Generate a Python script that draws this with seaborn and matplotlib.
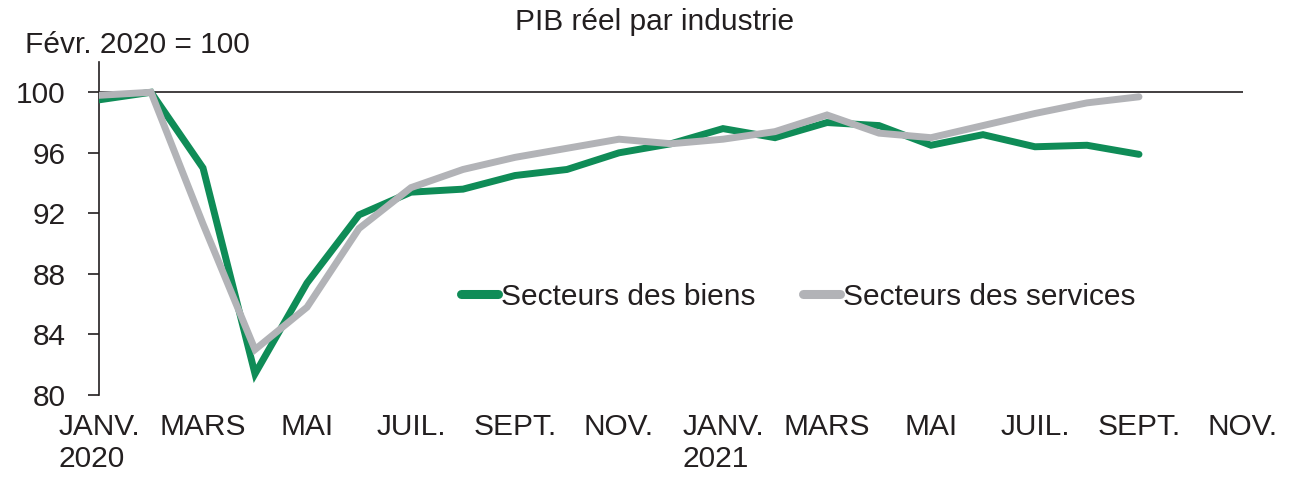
import numpy as np
import pandas as pd
import matplotlib
matplotlib.use("Agg")
import matplotlib.pyplot as plt
import seaborn as sns

# monthly index, janv. 2020 = 0 ... sept. 2021 = 20
months = list(range(21))
goods = [99.5, 100.0, 95.0, 81.4, 87.4, 91.9, 93.4, 93.6, 94.5, 94.9, 96.0, 96.6,
         97.6, 97.0, 98.0, 97.8, 96.5, 97.2, 96.4, 96.5, 95.9]
services = [99.8, 100.0, 91.3, 83.0, 85.8, 91.0, 93.7, 94.9, 95.7, 96.3, 96.9, 96.6,
            96.9, 97.4, 98.5, 97.3, 97.0, 97.8, 98.6, 99.3, 99.7]
tick_pos = list(range(0, 23, 2))
tick_labels = ["JANV.\n2020", "MARS", "MAI", "JUIL.", "SEPT.", "NOV.",
               "JANV.\n2021", "MARS", "MAI", "JUIL.", "SEPT.", "NOV."]
y_ticks = [80, 84, 88, 92, 96, 100]

GREEN = "#0f8c57"
GREY = "#b2b3b7"
FS = 21.5

sns.set_style("white")
plt.rcParams["font.family"] = ["Liberation Sans", "DejaVu Sans"]
plt.rcParams["text.color"] = "#231f20"
plt.rcParams["xtick.color"] = "#231f20"
plt.rcParams["ytick.color"] = "#231f20"

df = pd.DataFrame({
    "mois": months * 2,
    "indice": goods + services,
    "serie": ["Secteurs des biens"] * len(goods) + ["Secteurs des services"] * len(services),
})

fig = plt.figure(figsize=(13, 4.84), dpi=100)
ax = fig.add_axes([99 / 1300, 1 - 395 / 484, (1243 - 99) / 1300, (395 - 62) / 484])

ax.axhline(100, color="#231f20", linewidth=1.2, zorder=1)
sns.lineplot(data=df, x="mois", y="indice", hue="serie",
             palette=[GREEN, GREY], linewidth=5, ax=ax, zorder=3,
             solid_capstyle="round", solid_joinstyle="miter")

ax.set_xlim(0, 22)
ax.set_ylim(80, 102)
ax.set_yticks(y_ticks)
ax.set_xticks(tick_pos)
ax.set_xticklabels(tick_labels, multialignment="left")
ax.tick_params(axis="x", length=0, pad=13, labelsize=FS)
ax.tick_params(axis="y", direction="out", length=8, width=1.2, pad=16,
               labelsize=FS, left=True, color="#231f20")
ax.set_xlabel("")
ax.set_ylabel("")

for s in ["top", "right", "bottom"]:
    ax.spines[s].set_visible(False)
ax.spines["left"].set_color("#231f20")
ax.spines["left"].set_linewidth(1.2)

leg = ax.legend(loc="center left", bbox_to_anchor=(0.316, 0.295), ncol=2,
                frameon=False, fontsize=FS, handlelength=1.25,
                handletextpad=0.1, columnspacing=1.6, borderaxespad=0,
                borderpad=0)
for line in leg.get_lines():
    line.set_linewidth(6.5)
    line.set_solid_capstyle("round")

fig.text(655 / 1300, 1 - 22 / 484, "PIB réel par industrie", ha="center",
         va="center", fontsize=FS)
fig.text(25 / 1300, 1 - 45 / 484, "Févr. 2020 = 100", ha="left",
         va="center", fontsize=FS)

fig.savefig("out.png", dpi=100)
